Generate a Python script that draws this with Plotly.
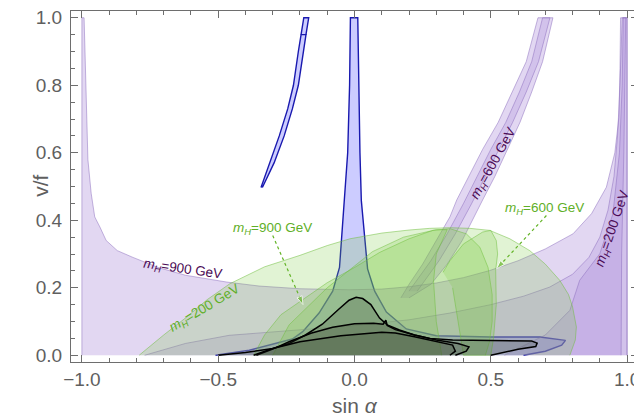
import plotly.graph_objects as go

# ---------------- data ----------------
# purple regions (m_H = 900 / 600 / 200 GeV)
p900_x = [-1.0, -1.0, -0.992, -0.988, -0.984, -0.978, -0.966, -0.953, -0.934, -0.911, -0.87, -0.813, -0.72, -0.62,
          -0.47, -0.35, -0.2, -0.02, 0.1, 0.2, 0.3, 0.4, 0.496, 0.6, 0.7, 0.802, 0.87, 0.924, 0.955, 0.97, 0.974,
          0.976, 1.0, 1.0]
p900_y = [0.0, 1.0, 1.0, 0.85, 0.7, 0.58, 0.48, 0.41, 0.38, 0.34, 0.31, 0.29, 0.26, 0.237,
          0.217, 0.205, 0.197, 0.194, 0.196, 0.203, 0.214, 0.23, 0.251, 0.28, 0.315, 0.36, 0.42, 0.498, 0.6, 0.705, 0.85,
          1.0, 1.0, 0.0]

p200o_x = [-0.77, -0.62, -0.46, -0.2, 0.0, 0.2, 0.35, 0.5, 0.62, 0.716, 0.8, 0.86, 0.9, 0.93, 0.952, 0.965, 0.974,
           0.982, 1.0, 1.0]
p200o_y = [0.0, 0.035, 0.059, 0.075, 0.088, 0.105, 0.125, 0.15, 0.175, 0.202, 0.24, 0.29, 0.35, 0.43, 0.53, 0.65, 0.8,
           1.0, 1.0, 0.0]
p200i_x = [0.55, 0.7, 0.79, 0.826, 0.9, 0.948, 0.972, 0.982, 0.986, 0.995, 0.988, 0.98, 0.978]
p200i_y = [0.0, 0.06, 0.133, 0.222, 0.301, 0.419, 0.6, 0.8, 1.0, 1.0, 0.6, 0.3, 0.0]

p600o_x = [0.17, 0.2, 0.25, 0.3, 0.35, 0.375, 0.42, 0.47, 0.527, 0.58, 0.63, 0.673,
           0.728, 0.69, 0.65, 0.607, 0.56, 0.515, 0.47, 0.44, 0.395, 0.34, 0.28, 0.2]
p600o_y = [0.17, 0.21, 0.27, 0.34, 0.41, 0.46, 0.53, 0.61, 0.69, 0.78, 0.87, 1.0,
           1.0, 0.87, 0.78, 0.69, 0.61, 0.53, 0.46, 0.41, 0.34, 0.27, 0.21, 0.17]
p600i_x = [0.2, 0.28, 0.34, 0.4, 0.45, 0.5, 0.555, 0.605, 0.65, 0.69,
           0.717, 0.675, 0.63, 0.58, 0.53, 0.48, 0.43, 0.37, 0.31, 0.23]
p600i_y = [0.19, 0.28, 0.36, 0.45, 0.53, 0.61, 0.69, 0.78, 0.87, 1.0,
           1.0, 0.87, 0.78, 0.69, 0.61, 0.53, 0.45, 0.36, 0.28, 0.19]

# green regions
g200_x = [-0.79, -0.70, -0.616, -0.54, -0.457, -0.33, -0.2, -0.1, -0.017, 0.1, 0.2, 0.276, 0.35, 0.423, 0.496,
          0.57, 0.643, 0.7, 0.753, 0.785, 0.80, 0.814, 0.81, 0.796, 0.79]
g200_y = [0.0, 0.06, 0.113, 0.165, 0.212, 0.262, 0.296, 0.325, 0.345, 0.362, 0.371, 0.376, 0.378, 0.376, 0.37,
          0.345, 0.31, 0.27, 0.222, 0.18, 0.143, 0.084, 0.045, 0.015, 0.0]
g900_x = [-0.37, -0.33, -0.27, -0.19, -0.1, 0.0, 0.093, 0.2, 0.287, 0.35, 0.41, 0.46, 0.49, 0.505, 0.505, 0.495, 0.48]
g900_y = [0.0, 0.06, 0.12, 0.165, 0.215, 0.26, 0.305, 0.345, 0.37, 0.375, 0.36, 0.32, 0.26, 0.18, 0.1, 0.04, 0.0]
g600_x = [-0.3, -0.24, -0.1, 0.066, 0.18, 0.3, 0.34, 0.3, 0.29, 0.3, 0.32, None,
          0.325, 0.35, 0.40, 0.47, 0.5, 0.52, 0.525, 0.518, 0.52, 0.51, 0.5, 0.4, 0.38, 0.36]
g600_y = [0.0, 0.09, 0.2, 0.307, 0.35, 0.372, 0.372, 0.3, 0.22, 0.1, 0.0, None,
          0.246, 0.28, 0.33, 0.365, 0.37, 0.34, 0.3, 0.253, 0.15, 0.05, 0.0, 0.0, 0.1, 0.2]

# blue regions
blue_x = [-0.51, -0.386, -0.228, -0.19, -0.13, -0.08, -0.055, -0.037, -0.025, -0.018, -0.015,
          0.012, 0.015, 0.02, 0.025, 0.048, 0.074, 0.117, 0.19, 0.3, 0.5, 0.68, 0.774, 0.76, 0.7, 0.62]
blue_y = [0.0, 0.015, 0.048, 0.07, 0.125, 0.19, 0.26, 0.459, 0.6, 0.8, 1.0,
          1.0, 0.8, 0.6, 0.459, 0.256, 0.19, 0.128, 0.078, 0.058, 0.054, 0.054, 0.044, 0.03, 0.012, 0.0]
arc_x = [-0.343, -0.31, -0.276, -0.245, -0.224, -0.206, -0.196, -0.178, -0.188, -0.206, -0.228, -0.258, -0.295, -0.338,
         None, -0.196, -0.186, -0.168, -0.178]
arc_y = [0.497, 0.57, 0.65, 0.73, 0.80, 0.90, 0.95, 0.95, 0.90, 0.80, 0.73, 0.65, 0.57, 0.497,
         None, 0.95, 1.0, 1.0, 0.95]

# black contours
c1_x = [-0.5, -0.4, -0.3, -0.24, -0.18, -0.118, -0.06, -0.02, 0.006, 0.03, 0.06, 0.092, 0.12, 0.165, 0.22, 0.276,
        0.36, 0.45, 0.55, 0.65, 0.67, 0.665, 0.6, 0.5]
c1_y = [0.0, 0.008, 0.02, 0.035, 0.06, 0.092, 0.135, 0.163, 0.172, 0.168, 0.15, 0.11, 0.09, 0.075, 0.06, 0.05,
        0.045, 0.044, 0.043, 0.042, 0.036, 0.026, 0.018, 0.0]
c2_x = [-0.36, -0.3, -0.24, -0.16, -0.08, 0.0, 0.07, 0.105, 0.115, 0.12, 0.15, 0.22, 0.3, 0.38, 0.42, 0.41, 0.37]
c2_y = [0.0, 0.018, 0.04, 0.065, 0.083, 0.093, 0.095, 0.092, 0.104, 0.088, 0.076, 0.06, 0.045, 0.035, 0.025, 0.012, 0.0]
c3_x = [-0.37, -0.3, -0.2, -0.05, 0.1, 0.15, 0.22, 0.3, 0.36, 0.37, 0.35]
c3_y = [0.0, 0.02, 0.04, 0.058, 0.068, 0.066, 0.055, 0.042, 0.03, 0.012, 0.0]

x_ticks = [-1.0, -0.5, 0.0, 0.5, 1.0]
x_ticktext = ["\u22121.0", "\u22120.5", "0.0", "0.5", "1.0"]
y_ticks = [0.0, 0.2, 0.4, 0.6, 0.8, 1.0]
y_ticktext = ["0.0", "0.2", "0.4", "0.6", "0.8", "1.0"]

# ---------------- figure ----------------
PURPLE_FILL = "rgba(150,110,210,0.28)"
PURPLE_FILL_IN = "rgba(150,110,210,0.20)"
PURPLE_LINE = "rgba(140,110,190,0.5)"
GREEN_FILL = "rgba(120,200,60,0.22)"
GREEN_LINE = "rgba(110,190,60,0.5)"
BLUE_FILL = "rgba(110,110,255,0.35)"
BLUE_LINE = "rgb(25,25,175)"
BLACK_FILL = "rgba(60,70,50,0.22)"

fig = go.Figure()


def region(x, y, fill, line, width=1.0):
    fig.add_trace(go.Scatter(x=x, y=y, mode="lines", fill="toself", fillcolor=fill,
                             line=dict(color=line, width=width), hoverinfo="skip", showlegend=False))


region(blue_x, blue_y, BLUE_FILL, BLUE_LINE, 1.4)
region(arc_x, arc_y, BLUE_FILL, BLUE_LINE, 1.4)
region(p900_x, p900_y, PURPLE_FILL, PURPLE_LINE)
region(p200o_x, p200o_y, PURPLE_FILL_IN, PURPLE_LINE)
region(p200i_x, p200i_y, PURPLE_FILL_IN, PURPLE_LINE)
region(p600o_x, p600o_y, PURPLE_FILL, PURPLE_LINE)
region(p600i_x, p600i_y, PURPLE_FILL_IN, PURPLE_LINE)
region(g200_x, g200_y, GREEN_FILL, GREEN_LINE)
region(g900_x, g900_y, GREEN_FILL, GREEN_LINE)
region(g600_x, g600_y, GREEN_FILL, GREEN_LINE)
region(c1_x, c1_y, BLACK_FILL, "black", 1.5)
region(c2_x, c2_y, BLACK_FILL, "black", 1.5)
region(c3_x, c3_y, BLACK_FILL, "black", 1.5)

# dashed green arrows
arrow_color = "rgb(100,180,40)"
for (xa, ya) in [([-0.30, -0.189], [0.355, 0.150]), ([0.704, 0.521], [0.414, 0.256])]:
    fig.add_trace(go.Scatter(x=xa, y=ya, mode="lines+markers",
                             line=dict(color=arrow_color, width=1.2, dash="3px,3px"),
                             marker=dict(symbol=["circle", "arrow"], size=[1, 9], angleref="previous",
                                         color=arrow_color),
                             hoverinfo="skip", showlegend=False))

mh = "<i>m</i><sub><i>H</i></sub>"
ann_font = "Liberation Sans, Arial, sans-serif"
labels = [
    (-0.63, 0.253, mh + "=900 GeV", "rgb(75,10,85)", 8),
    (0.511, 0.568, mh + "=600 GeV", "rgb(75,10,85)", -61),
    (0.948, 0.375, mh + "=200 GeV", "rgb(75,10,85)", -71),
    (-0.30, 0.376, mh + "=900 GeV", "rgb(95,175,40)", 0),
    (0.698, 0.436, mh + "=600 GeV", "rgb(95,175,40)", 0),
    (-0.549, 0.139, mh + "=200 GeV", "rgb(95,175,40)", -31),
]
for (lx, ly, txt, col, ang) in labels:
    fig.add_annotation(x=lx, y=ly, text=txt, showarrow=False, textangle=ang,
                       font=dict(family=ann_font, size=13.5, color=col))

axis_col = "rgb(110,110,110)"
tick_font = dict(family=ann_font, size=19, color="rgb(95,95,95)")
fig.update_xaxes(range=[-1.04, 1.04], tickvals=x_ticks, ticktext=x_ticktext, ticks="inside", ticklen=7,
                 tickcolor=axis_col, showline=True, linecolor=axis_col, linewidth=1, mirror="ticks",
                 showgrid=False, zeroline=False, tickfont=tick_font, automargin=False, ticklabeloverflow="allow",
                 minor=dict(ticks="inside", ticklen=4, dtick=0.1, tickcolor=axis_col, showgrid=False))
fig.update_yaxes(range=[-0.02, 1.02], tickvals=y_ticks, ticktext=y_ticktext, ticks="inside", ticklen=7,
                 tickcolor=axis_col, showline=True, linecolor=axis_col, linewidth=1, mirror="ticks",
                 showgrid=False, zeroline=False, tickfont=tick_font, ticklabelstandoff=4, automargin=False,
                 ticklabeloverflow="allow",
                 minor=dict(ticks="inside", ticklen=4, dtick=0.05, tickcolor=axis_col, showgrid=False))

fig.add_annotation(xref="paper", yref="paper", x=-0.078, y=0.503, text="v/f", textangle=-90, showarrow=False,
                   font=dict(family=ann_font, size=21, color="rgb(95,95,95)"))
fig.add_annotation(xref="paper", yref="paper", x=0.501, y=-0.125, yanchor="middle", text="sin <i>\u03b1</i>",
                   showarrow=False, font=dict(family=ann_font, size=21, color="rgb(95,95,95)"))

# the page body has an 8px default margin, so the figure is drawn 8px smaller and offset
fig.update_layout(width=634, height=410, margin=dict(l=63, r=4, t=3, b=56),
                  plot_bgcolor="white", paper_bgcolor="white")

fig.write_html("out.html")
